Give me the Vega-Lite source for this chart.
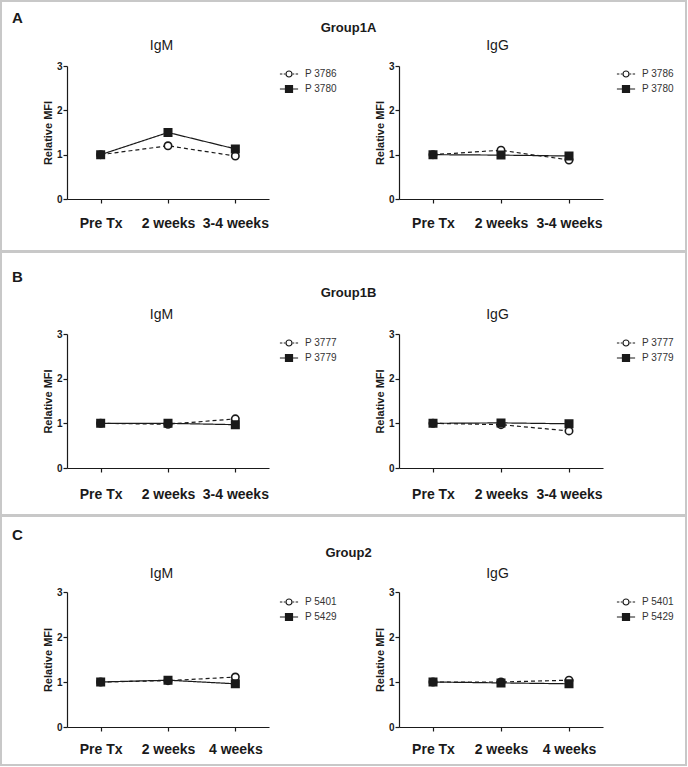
{
  "$schema": "https://vega.github.io/schema/vega-lite/v6.json",
  "background": "white",
  "padding": 0,
  "spacing": -1,
  "datasets": {
    "rowA": [
      {"panel": "IgM", "patient": "P 3786", "time": "Pre Tx", "step": 0, "mfi": 1.0},
      {"panel": "IgM", "patient": "P 3786", "time": "2 weeks", "step": 1, "mfi": 1.2},
      {"panel": "IgM", "patient": "P 3786", "time": "3-4 weeks", "step": 2, "mfi": 0.97},
      {"panel": "IgM", "patient": "P 3780", "time": "Pre Tx", "step": 0, "mfi": 1.0},
      {"panel": "IgM", "patient": "P 3780", "time": "2 weeks", "step": 1, "mfi": 1.5},
      {"panel": "IgM", "patient": "P 3780", "time": "3-4 weeks", "step": 2, "mfi": 1.13},
      {"panel": "IgG", "patient": "P 3786", "time": "Pre Tx", "step": 0, "mfi": 1.0},
      {"panel": "IgG", "patient": "P 3786", "time": "2 weeks", "step": 1, "mfi": 1.1},
      {"panel": "IgG", "patient": "P 3786", "time": "3-4 weeks", "step": 2, "mfi": 0.88},
      {"panel": "IgG", "patient": "P 3780", "time": "Pre Tx", "step": 0, "mfi": 1.0},
      {"panel": "IgG", "patient": "P 3780", "time": "2 weeks", "step": 1, "mfi": 0.99},
      {"panel": "IgG", "patient": "P 3780", "time": "3-4 weeks", "step": 2, "mfi": 0.97}
    ],
    "rowB": [
      {"panel": "IgM", "patient": "P 3777", "time": "Pre Tx", "step": 0, "mfi": 1.0},
      {"panel": "IgM", "patient": "P 3777", "time": "2 weeks", "step": 1, "mfi": 0.98},
      {"panel": "IgM", "patient": "P 3777", "time": "3-4 weeks", "step": 2, "mfi": 1.1},
      {"panel": "IgM", "patient": "P 3779", "time": "Pre Tx", "step": 0, "mfi": 1.0},
      {"panel": "IgM", "patient": "P 3779", "time": "2 weeks", "step": 1, "mfi": 1.0},
      {"panel": "IgM", "patient": "P 3779", "time": "3-4 weeks", "step": 2, "mfi": 0.97},
      {"panel": "IgG", "patient": "P 3777", "time": "Pre Tx", "step": 0, "mfi": 1.0},
      {"panel": "IgG", "patient": "P 3777", "time": "2 weeks", "step": 1, "mfi": 0.97},
      {"panel": "IgG", "patient": "P 3777", "time": "3-4 weeks", "step": 2, "mfi": 0.83},
      {"panel": "IgG", "patient": "P 3779", "time": "Pre Tx", "step": 0, "mfi": 1.0},
      {"panel": "IgG", "patient": "P 3779", "time": "2 weeks", "step": 1, "mfi": 1.01},
      {"panel": "IgG", "patient": "P 3779", "time": "3-4 weeks", "step": 2, "mfi": 0.99}
    ],
    "rowC": [
      {"panel": "IgM", "patient": "P 5401", "time": "Pre Tx", "step": 0, "mfi": 1.0},
      {"panel": "IgM", "patient": "P 5401", "time": "2 weeks", "step": 1, "mfi": 1.03},
      {"panel": "IgM", "patient": "P 5401", "time": "4 weeks", "step": 2, "mfi": 1.11},
      {"panel": "IgM", "patient": "P 5429", "time": "Pre Tx", "step": 0, "mfi": 1.0},
      {"panel": "IgM", "patient": "P 5429", "time": "2 weeks", "step": 1, "mfi": 1.04},
      {"panel": "IgM", "patient": "P 5429", "time": "4 weeks", "step": 2, "mfi": 0.96},
      {"panel": "IgG", "patient": "P 5401", "time": "Pre Tx", "step": 0, "mfi": 1.0},
      {"panel": "IgG", "patient": "P 5401", "time": "2 weeks", "step": 1, "mfi": 1.0},
      {"panel": "IgG", "patient": "P 5401", "time": "4 weeks", "step": 2, "mfi": 1.04},
      {"panel": "IgG", "patient": "P 5429", "time": "Pre Tx", "step": 0, "mfi": 1.0},
      {"panel": "IgG", "patient": "P 5429", "time": "2 weeks", "step": 1, "mfi": 0.98},
      {"panel": "IgG", "patient": "P 5429", "time": "4 weeks", "step": 2, "mfi": 0.96}
    ]
  },
  "vconcat": [
    {
      "title": {"text": "A", "anchor": "start", "offset": -26, "dx": 12, "fontSize": 15},
      "vconcat": [
        {
          "width": 685, "height": 250,
          "title": {"text": "Group1A", "anchor": "middle", "offset": -34, "dx": 5, "fontSize": 13},
          "data": {"name": "rowA"},
          "layer": [
            {
              "transform": [{"filter": "datum.panel === 'IgM'"}],
              "encoding": {
                "x": {"field": "time", "type": "ordinal", "sort": ["Pre Tx", "2 weeks", "3-4 weeks"], "scale": {"type": "point", "range": [66, 268], "padding": 0.5}, "axis": {"orient": "bottom", "offset": -52, "title": "IgM", "titleX": 160, "labelPadding": 13}},
                "y": {"field": "mfi", "type": "quantitative", "scale": {"domain": [0, 3], "range": [198, 65], "nice": false, "zero": false}, "axis": {"orient": "left", "offset": -66, "title": "Relative MFI", "values": [0, 1, 2, 3]}}
              },
              "layer": [
                {"mark": {"type": "line", "color": "#1a1a1a", "strokeWidth": 1.2}, "encoding": {"detail": {"field": "patient", "type": "nominal"}, "strokeDash": {"condition": {"test": "indexof(['P 3786','P 3777','P 5401'], datum.patient) >= 0", "value": [4, 3]}, "value": [1, 0]}, "order": {"field": "step", "type": "quantitative"}}},
                {"mark": {"type": "point", "filled": true, "stroke": "#1a1a1a", "strokeWidth": 1.6, "size": 55, "opacity": 1}, "encoding": {"shape": {"field": "patient", "type": "nominal", "scale": {"domain": ["P 3786", "P 3780"], "range": ["circle", "square"]}, "legend": null}, "fill": {"condition": {"test": "indexof(['P 3786','P 3777','P 5401'], datum.patient) >= 0", "value": "white"}, "value": "#1a1a1a"}}},
                {"mark": {"type": "point", "filled": true, "strokeWidth": 1.2, "opacity": 0}, "encoding": {
                  "shape": {"field": "patient", "type": "nominal", "scale": {"domain": ["P 3786", "P 3780"], "range": ["M-1.3,0H-0.95M-0.75,0H-0.55M0.55,0H0.75M0.95,0H1.3M0.43,0A0.43,0.43,0,1,1,-0.43,0A0.43,0.43,0,1,1,0.43,0Z", "M-1.3,0H1.3M-0.5,-0.5H0.5V0.5H-0.5Z"]}, "legend": {"orient": "none", "legendX": 280, "legendY": 65, "title": null, "symbolOpacity": 1, "symbolStrokeWidth": 1.2}},
                  "fill": {"field": "patient", "type": "nominal", "scale": {"domain": ["P 3786", "P 3780"], "range": ["white", "#1a1a1a"]}, "legend": {"orient": "none", "legendX": 280, "legendY": 65, "title": null, "symbolOpacity": 1, "symbolStrokeWidth": 1.2}},
                  "stroke": {"field": "patient", "type": "nominal", "scale": {"domain": ["P 3786", "P 3780"], "range": ["#1a1a1a", "#1a1a1a"]}, "legend": {"orient": "none", "legendX": 280, "legendY": 65, "title": null, "symbolOpacity": 1, "symbolStrokeWidth": 1.2}}
                }}
              ],
              "resolve": {"scale": {"shape": "independent", "fill": "independent", "stroke": "independent"}}
            },
            {
              "transform": [{"filter": "datum.panel === 'IgG'"}],
              "encoding": {
                "x": {"field": "time", "type": "ordinal", "sort": ["Pre Tx", "2 weeks", "3-4 weeks"], "scale": {"type": "point", "range": [398, 602], "padding": 0.5}, "axis": {"orient": "bottom", "offset": -52, "title": "IgG", "titleX": 496, "labelPadding": 13}},
                "y": {"field": "mfi", "type": "quantitative", "scale": {"domain": [0, 3], "range": [198, 65], "nice": false, "zero": false}, "axis": {"orient": "left", "offset": -398, "title": "Relative MFI", "values": [0, 1, 2, 3]}}
              },
              "layer": [
                {"mark": {"type": "line", "color": "#1a1a1a", "strokeWidth": 1.2}, "encoding": {"detail": {"field": "patient", "type": "nominal"}, "strokeDash": {"condition": {"test": "indexof(['P 3786','P 3777','P 5401'], datum.patient) >= 0", "value": [4, 3]}, "value": [1, 0]}, "order": {"field": "step", "type": "quantitative"}}},
                {"mark": {"type": "point", "filled": true, "stroke": "#1a1a1a", "strokeWidth": 1.6, "size": 55, "opacity": 1}, "encoding": {"shape": {"field": "patient", "type": "nominal", "scale": {"domain": ["P 3786", "P 3780"], "range": ["circle", "square"]}, "legend": null}, "fill": {"condition": {"test": "indexof(['P 3786','P 3777','P 5401'], datum.patient) >= 0", "value": "white"}, "value": "#1a1a1a"}}},
                {"mark": {"type": "point", "filled": true, "strokeWidth": 1.2, "opacity": 0}, "encoding": {
                  "shape": {"field": "patient", "type": "nominal", "scale": {"domain": ["P 3786", "P 3780"], "range": ["M-1.3,0H-0.95M-0.75,0H-0.55M0.55,0H0.75M0.95,0H1.3M0.43,0A0.43,0.43,0,1,1,-0.43,0A0.43,0.43,0,1,1,0.43,0Z", "M-1.3,0H1.3M-0.5,-0.5H0.5V0.5H-0.5Z"]}, "legend": {"orient": "none", "legendX": 617, "legendY": 65, "title": null, "symbolOpacity": 1, "symbolStrokeWidth": 1.2}},
                  "fill": {"field": "patient", "type": "nominal", "scale": {"domain": ["P 3786", "P 3780"], "range": ["white", "#1a1a1a"]}, "legend": {"orient": "none", "legendX": 617, "legendY": 65, "title": null, "symbolOpacity": 1, "symbolStrokeWidth": 1.2}},
                  "stroke": {"field": "patient", "type": "nominal", "scale": {"domain": ["P 3786", "P 3780"], "range": ["#1a1a1a", "#1a1a1a"]}, "legend": {"orient": "none", "legendX": 617, "legendY": 65, "title": null, "symbolOpacity": 1, "symbolStrokeWidth": 1.2}}
                }}
              ],
              "resolve": {"scale": {"shape": "independent", "fill": "independent", "stroke": "independent"}}
            }
          ],
          "resolve": {"scale": {"x": "independent", "y": "independent", "shape": "independent", "fill": "independent", "stroke": "independent"}, "axis": {"x": "independent", "y": "independent"}}
        }
      ]
    },
    {
      "title": {"text": "B", "anchor": "start", "offset": -34, "dx": 12, "fontSize": 15},
      "vconcat": [
        {
          "width": 685, "height": 263,
          "title": {"text": "Group1B", "anchor": "middle", "offset": -48, "dx": 5, "fontSize": 13},
          "data": {"name": "rowB"},
          "layer": [
            {
              "transform": [{"filter": "datum.panel === 'IgM'"}],
              "encoding": {
                "x": {"field": "time", "type": "ordinal", "sort": ["Pre Tx", "2 weeks", "3-4 weeks"], "scale": {"type": "point", "range": [66, 268], "padding": 0.5}, "axis": {"orient": "bottom", "offset": -47, "title": "IgM", "titleX": 160, "labelPadding": 15}},
                "y": {"field": "mfi", "type": "quantitative", "scale": {"domain": [0, 3], "range": [216, 82], "nice": false, "zero": false}, "axis": {"orient": "left", "offset": -66, "title": "Relative MFI", "values": [0, 1, 2, 3]}}
              },
              "layer": [
                {"mark": {"type": "line", "color": "#1a1a1a", "strokeWidth": 1.2}, "encoding": {"detail": {"field": "patient", "type": "nominal"}, "strokeDash": {"condition": {"test": "indexof(['P 3786','P 3777','P 5401'], datum.patient) >= 0", "value": [4, 3]}, "value": [1, 0]}, "order": {"field": "step", "type": "quantitative"}}},
                {"mark": {"type": "point", "filled": true, "stroke": "#1a1a1a", "strokeWidth": 1.6, "size": 55, "opacity": 1}, "encoding": {"shape": {"field": "patient", "type": "nominal", "scale": {"domain": ["P 3777", "P 3779"], "range": ["circle", "square"]}, "legend": null}, "fill": {"condition": {"test": "indexof(['P 3786','P 3777','P 5401'], datum.patient) >= 0", "value": "white"}, "value": "#1a1a1a"}}},
                {"mark": {"type": "point", "filled": true, "strokeWidth": 1.2, "opacity": 0}, "encoding": {
                  "shape": {"field": "patient", "type": "nominal", "scale": {"domain": ["P 3777", "P 3779"], "range": ["M-1.3,0H-0.95M-0.75,0H-0.55M0.55,0H0.75M0.95,0H1.3M0.43,0A0.43,0.43,0,1,1,-0.43,0A0.43,0.43,0,1,1,0.43,0Z", "M-1.3,0H1.3M-0.5,-0.5H0.5V0.5H-0.5Z"]}, "legend": {"orient": "none", "legendX": 280, "legendY": 83, "title": null, "symbolOpacity": 1, "symbolStrokeWidth": 1.2}},
                  "fill": {"field": "patient", "type": "nominal", "scale": {"domain": ["P 3777", "P 3779"], "range": ["white", "#1a1a1a"]}, "legend": {"orient": "none", "legendX": 280, "legendY": 83, "title": null, "symbolOpacity": 1, "symbolStrokeWidth": 1.2}},
                  "stroke": {"field": "patient", "type": "nominal", "scale": {"domain": ["P 3777", "P 3779"], "range": ["#1a1a1a", "#1a1a1a"]}, "legend": {"orient": "none", "legendX": 280, "legendY": 83, "title": null, "symbolOpacity": 1, "symbolStrokeWidth": 1.2}}
                }}
              ],
              "resolve": {"scale": {"shape": "independent", "fill": "independent", "stroke": "independent"}}
            },
            {
              "transform": [{"filter": "datum.panel === 'IgG'"}],
              "encoding": {
                "x": {"field": "time", "type": "ordinal", "sort": ["Pre Tx", "2 weeks", "3-4 weeks"], "scale": {"type": "point", "range": [398, 602], "padding": 0.5}, "axis": {"orient": "bottom", "offset": -47, "title": "IgG", "titleX": 496, "labelPadding": 15}},
                "y": {"field": "mfi", "type": "quantitative", "scale": {"domain": [0, 3], "range": [216, 82], "nice": false, "zero": false}, "axis": {"orient": "left", "offset": -398, "title": "Relative MFI", "values": [0, 1, 2, 3]}}
              },
              "layer": [
                {"mark": {"type": "line", "color": "#1a1a1a", "strokeWidth": 1.2}, "encoding": {"detail": {"field": "patient", "type": "nominal"}, "strokeDash": {"condition": {"test": "indexof(['P 3786','P 3777','P 5401'], datum.patient) >= 0", "value": [4, 3]}, "value": [1, 0]}, "order": {"field": "step", "type": "quantitative"}}},
                {"mark": {"type": "point", "filled": true, "stroke": "#1a1a1a", "strokeWidth": 1.6, "size": 55, "opacity": 1}, "encoding": {"shape": {"field": "patient", "type": "nominal", "scale": {"domain": ["P 3777", "P 3779"], "range": ["circle", "square"]}, "legend": null}, "fill": {"condition": {"test": "indexof(['P 3786','P 3777','P 5401'], datum.patient) >= 0", "value": "white"}, "value": "#1a1a1a"}}},
                {"mark": {"type": "point", "filled": true, "strokeWidth": 1.2, "opacity": 0}, "encoding": {
                  "shape": {"field": "patient", "type": "nominal", "scale": {"domain": ["P 3777", "P 3779"], "range": ["M-1.3,0H-0.95M-0.75,0H-0.55M0.55,0H0.75M0.95,0H1.3M0.43,0A0.43,0.43,0,1,1,-0.43,0A0.43,0.43,0,1,1,0.43,0Z", "M-1.3,0H1.3M-0.5,-0.5H0.5V0.5H-0.5Z"]}, "legend": {"orient": "none", "legendX": 617, "legendY": 83, "title": null, "symbolOpacity": 1, "symbolStrokeWidth": 1.2}},
                  "fill": {"field": "patient", "type": "nominal", "scale": {"domain": ["P 3777", "P 3779"], "range": ["white", "#1a1a1a"]}, "legend": {"orient": "none", "legendX": 617, "legendY": 83, "title": null, "symbolOpacity": 1, "symbolStrokeWidth": 1.2}},
                  "stroke": {"field": "patient", "type": "nominal", "scale": {"domain": ["P 3777", "P 3779"], "range": ["#1a1a1a", "#1a1a1a"]}, "legend": {"orient": "none", "legendX": 617, "legendY": 83, "title": null, "symbolOpacity": 1, "symbolStrokeWidth": 1.2}}
                }}
              ],
              "resolve": {"scale": {"shape": "independent", "fill": "independent", "stroke": "independent"}}
            }
          ],
          "resolve": {"scale": {"x": "independent", "y": "independent", "shape": "independent", "fill": "independent", "stroke": "independent"}, "axis": {"x": "independent", "y": "independent"}}
        }
      ]
    },
    {
      "title": {"text": "C", "anchor": "start", "offset": -28, "dx": 12, "fontSize": 15},
      "vconcat": [
        {
          "width": 685, "height": 249,
          "title": {"text": "Group2", "anchor": "middle", "offset": -44, "dx": 5, "fontSize": 13},
          "data": {"name": "rowC"},
          "layer": [
            {
              "transform": [{"filter": "datum.panel === 'IgM'"}],
              "encoding": {
                "x": {"field": "time", "type": "ordinal", "sort": ["Pre Tx", "2 weeks", "4 weeks"], "scale": {"type": "point", "range": [66, 268], "padding": 0.5}, "axis": {"orient": "bottom", "offset": -38, "title": "IgM", "titleX": 160, "labelPadding": 11}},
                "y": {"field": "mfi", "type": "quantitative", "scale": {"domain": [0, 3], "range": [211, 76], "nice": false, "zero": false}, "axis": {"orient": "left", "offset": -66, "title": "Relative MFI", "values": [0, 1, 2, 3]}}
              },
              "layer": [
                {"mark": {"type": "line", "color": "#1a1a1a", "strokeWidth": 1.2}, "encoding": {"detail": {"field": "patient", "type": "nominal"}, "strokeDash": {"condition": {"test": "indexof(['P 3786','P 3777','P 5401'], datum.patient) >= 0", "value": [4, 3]}, "value": [1, 0]}, "order": {"field": "step", "type": "quantitative"}}},
                {"mark": {"type": "point", "filled": true, "stroke": "#1a1a1a", "strokeWidth": 1.6, "size": 55, "opacity": 1}, "encoding": {"shape": {"field": "patient", "type": "nominal", "scale": {"domain": ["P 5401", "P 5429"], "range": ["circle", "square"]}, "legend": null}, "fill": {"condition": {"test": "indexof(['P 3786','P 3777','P 5401'], datum.patient) >= 0", "value": "white"}, "value": "#1a1a1a"}}},
                {"mark": {"type": "point", "filled": true, "strokeWidth": 1.2, "opacity": 0}, "encoding": {
                  "shape": {"field": "patient", "type": "nominal", "scale": {"domain": ["P 5401", "P 5429"], "range": ["M-1.3,0H-0.95M-0.75,0H-0.55M0.55,0H0.75M0.95,0H1.3M0.43,0A0.43,0.43,0,1,1,-0.43,0A0.43,0.43,0,1,1,0.43,0Z", "M-1.3,0H1.3M-0.5,-0.5H0.5V0.5H-0.5Z"]}, "legend": {"orient": "none", "legendX": 280, "legendY": 78, "title": null, "symbolOpacity": 1, "symbolStrokeWidth": 1.2}},
                  "fill": {"field": "patient", "type": "nominal", "scale": {"domain": ["P 5401", "P 5429"], "range": ["white", "#1a1a1a"]}, "legend": {"orient": "none", "legendX": 280, "legendY": 78, "title": null, "symbolOpacity": 1, "symbolStrokeWidth": 1.2}},
                  "stroke": {"field": "patient", "type": "nominal", "scale": {"domain": ["P 5401", "P 5429"], "range": ["#1a1a1a", "#1a1a1a"]}, "legend": {"orient": "none", "legendX": 280, "legendY": 78, "title": null, "symbolOpacity": 1, "symbolStrokeWidth": 1.2}}
                }}
              ],
              "resolve": {"scale": {"shape": "independent", "fill": "independent", "stroke": "independent"}}
            },
            {
              "transform": [{"filter": "datum.panel === 'IgG'"}],
              "encoding": {
                "x": {"field": "time", "type": "ordinal", "sort": ["Pre Tx", "2 weeks", "4 weeks"], "scale": {"type": "point", "range": [398, 602], "padding": 0.5}, "axis": {"orient": "bottom", "offset": -38, "title": "IgG", "titleX": 496, "labelPadding": 11}},
                "y": {"field": "mfi", "type": "quantitative", "scale": {"domain": [0, 3], "range": [211, 76], "nice": false, "zero": false}, "axis": {"orient": "left", "offset": -398, "title": "Relative MFI", "values": [0, 1, 2, 3]}}
              },
              "layer": [
                {"mark": {"type": "line", "color": "#1a1a1a", "strokeWidth": 1.2}, "encoding": {"detail": {"field": "patient", "type": "nominal"}, "strokeDash": {"condition": {"test": "indexof(['P 3786','P 3777','P 5401'], datum.patient) >= 0", "value": [4, 3]}, "value": [1, 0]}, "order": {"field": "step", "type": "quantitative"}}},
                {"mark": {"type": "point", "filled": true, "stroke": "#1a1a1a", "strokeWidth": 1.6, "size": 55, "opacity": 1}, "encoding": {"shape": {"field": "patient", "type": "nominal", "scale": {"domain": ["P 5401", "P 5429"], "range": ["circle", "square"]}, "legend": null}, "fill": {"condition": {"test": "indexof(['P 3786','P 3777','P 5401'], datum.patient) >= 0", "value": "white"}, "value": "#1a1a1a"}}},
                {"mark": {"type": "point", "filled": true, "strokeWidth": 1.2, "opacity": 0}, "encoding": {
                  "shape": {"field": "patient", "type": "nominal", "scale": {"domain": ["P 5401", "P 5429"], "range": ["M-1.3,0H-0.95M-0.75,0H-0.55M0.55,0H0.75M0.95,0H1.3M0.43,0A0.43,0.43,0,1,1,-0.43,0A0.43,0.43,0,1,1,0.43,0Z", "M-1.3,0H1.3M-0.5,-0.5H0.5V0.5H-0.5Z"]}, "legend": {"orient": "none", "legendX": 617, "legendY": 78, "title": null, "symbolOpacity": 1, "symbolStrokeWidth": 1.2}},
                  "fill": {"field": "patient", "type": "nominal", "scale": {"domain": ["P 5401", "P 5429"], "range": ["white", "#1a1a1a"]}, "legend": {"orient": "none", "legendX": 617, "legendY": 78, "title": null, "symbolOpacity": 1, "symbolStrokeWidth": 1.2}},
                  "stroke": {"field": "patient", "type": "nominal", "scale": {"domain": ["P 5401", "P 5429"], "range": ["#1a1a1a", "#1a1a1a"]}, "legend": {"orient": "none", "legendX": 617, "legendY": 78, "title": null, "symbolOpacity": 1, "symbolStrokeWidth": 1.2}}
                }}
              ],
              "resolve": {"scale": {"shape": "independent", "fill": "independent", "stroke": "independent"}}
            }
          ],
          "resolve": {"scale": {"x": "independent", "y": "independent", "shape": "independent", "fill": "independent", "stroke": "independent"}, "axis": {"x": "independent", "y": "independent"}}
        }
      ]
    }
  ],
  "config": {
    "font": "Liberation Sans",
    "view": {"stroke": "#c8c8c8", "strokeWidth": 2, "fill": "white"},
    "concat": {"spacing": 0},
    "axis": {"grid": false, "domainColor": "#1a1a1a", "tickColor": "#1a1a1a", "domainWidth": 1.2, "tickWidth": 1.2, "tickSize": 4, "labelColor": "#1a1a1a", "titleColor": "#1a1a1a", "labelFont": "Liberation Sans", "titleFont": "Liberation Sans"},
    "axisX": {"labelFontSize": 14, "labelFontWeight": "bold", "labelAngle": 0, "titleFontSize": 14, "titleFontWeight": "normal", "titleBaseline": "middle", "titleY": -154},
    "axisY": {"labelFontSize": 10, "labelFontWeight": "bold", "labelPadding": 1, "titleFontSize": 11, "titleFontWeight": "bold", "titlePadding": 3},
    "legend": {"labelFont": "Liberation Sans", "labelFontSize": 10, "labelColor": "#333333", "symbolSize": 196, "labelOffset": 8, "rowPadding": 1, "padding": 0},
    "title": {"font": "Liberation Sans", "fontWeight": "bold", "color": "#1a1a1a"}
  }
}
